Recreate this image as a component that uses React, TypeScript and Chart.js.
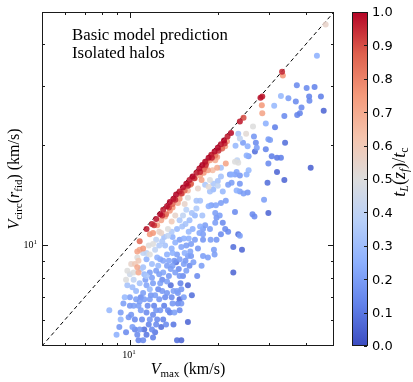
import React, { useEffect, useRef } from 'react';
import { Chart, registerables } from 'chart.js';
Chart.register(...registerables);

// ---------------- data ----------------
// V_max (km/s)
const vmax: number[] = [
  // upper, sparse part
  46.8, 43.7, 33.2, 33.4, 37.3, 40.3, 42.9, 41.1, 45.1, 32.9,
  34.9, 31.2, 37.0, 41.2, 38.7, 38.2, 37.4, 46.1, 33.8, 31.4,
  34.0, 30.2, 30.6, 31.9, 32.9, 31.9, 41.6, 33.8, 28.0, 28.4,
  28.3, 28.4, 29.2, 23.8, 24.5, 26.4, 23.5, 25.0, 23.8, 23.0,
  24.4, 25.3, 26.6, 27.0, 26.8, 29.2, 29.8, 25.5, 23.3, 25.1,
  27.2, 23.5, 22.3, 28.8, 26.3, 26.7, 29.8, 24.2, 23.8, 29.8,
  29.6, 22.6,
  // middle part
  18.1, 19.2, 18.5, 19.9, 20.5, 21.3, 22.9, 17.9, 17.6, 18.6,
  19.3, 20.0, 20.5, 18.8, 18.1, 18.8, 19.3, 20.0, 20.8, 22.0,
  22.9, 23.8, 23.2, 25.5, 25.1, 21.7, 22.3, 23.8, 23.2, 23.8,
  24.5, 25.3, 21.3, 20.5, 19.7, 19.0, 18.6, 17.4, 22.9, 19.6,
  19.8, 20.3, 20.8, 19.6, 17.7, 18.1, 17.8, 17.8, 17.8, 18.8,
  18.9, 19.8, 21.2, 21.7, 23.5, 20.5, 22.6, 19.5, 19.4, 17.6,
  17.8, 18.5, 21.5, 21.2, 19.3, 19.9, 19.6, 18.8, 18.3, 20.4,
  // dense lower part
  8.5, 9.0, 9.3, 9.3, 9.7, 9.8, 9.8, 9.9, 10.0, 10.3,
  10.1, 10.4, 10.2, 10.6, 10.7, 10.3, 10.3, 10.6, 10.4, 10.7,
  10.6, 10.7, 10.6, 10.8, 10.8, 10.8, 10.8, 10.7, 10.5, 10.8,
  10.9, 11.1, 11.2, 11.4, 11.4, 11.1, 11.4, 11.7, 11.7, 11.7,
  11.1, 11.4, 11.1, 11.7, 11.7, 11.1, 11.6, 11.7, 11.4, 11.4,
  11.2, 11.9, 12.0, 12.0, 12.3, 12.3, 12.4, 12.0, 12.7, 12.3,
  12.7, 12.0, 12.0, 12.3, 12.6, 12.4, 12.2, 12.5, 12.2, 12.6,
  12.8, 12.9, 13.0, 13.3, 13.4, 12.7, 13.5, 13.4, 13.0, 13.4,
  13.4, 12.8, 13.2, 13.7, 13.8, 13.2, 13.5, 12.9, 13.5, 12.8,
  13.9, 14.0, 14.1, 14.6, 14.6, 14.5, 14.0, 14.0, 14.4, 14.3,
  14.8, 14.5, 14.8, 14.2, 14.8, 14.0, 14.5, 14.8, 14.8, 14.0,
  14.6, 14.8, 14.3, 13.9, 15.0, 14.8, 15.0, 15.3, 15.0, 15.8,
  15.8, 15.3, 15.6, 15.4, 16.1, 15.1, 16.3, 15.1, 15.8, 16.1,
  15.4, 15.8, 15.3, 15.6, 15.9, 15.2, 16.5, 16.9, 16.7, 17.4,
  17.1, 16.7, 17.4, 16.7, 17.1,
  // band along the diagonal
  11.9, 12.3, 12.7, 13.0, 13.4, 13.7, 14.1, 14.4, 14.8, 15.2,
  15.6, 16.0, 16.4, 16.9, 17.3, 17.7, 18.1, 18.6, 19.0, 19.5,
  20.0, 20.5, 21.0, 21.6, 22.2, 12.1, 12.9, 13.6, 14.3, 15.0,
  15.8, 16.6, 17.4, 18.2, 19.1, 20.1, 21.1, 13.3, 14.0, 15.4,
  16.2, 17.9, 19.6, 20.7,
  // more of the dense cloud
  10.0, 10.5, 10.9, 11.3, 11.5, 11.8, 11.9, 12.1, 12.5, 12.6,
  12.9, 13.1, 13.2, 13.6, 13.8, 13.6, 13.9, 14.2, 14.5, 14.7,
  14.9, 15.2, 15.5, 15.8, 16.0, 16.2, 16.4, 16.0, 15.6, 14.3,
  13.0, 12.4, 11.9, 11.2, 10.9, 10.2, 9.6, 9.5, 9.2, 9.7,
  10.4, 11.0, 11.6, 12.2, 13.7, 14.1, 16.3, 17.0, 16.2, 13.1,
  13.9, 12.6, 11.4, 10.1, 10.0, 15.0, 15.9, 17.3, 16.9, 15.5,
];

// V_circ(r_fid) (km/s)
const vcirc: number[] = [
  45.9, 37.0, 33.1, 32.3, 30.2, 29.6, 29.8, 27.9, 27.9, 28.0,
  27.6, 26.2, 27.0, 27.1, 25.9, 24.9, 24.6, 25.3, 24.4, 22.6,
  20.3, 20.7, 18.5, 18.3, 18.3, 16.6, 17.1, 15.7, 27.7, 27.9,
  26.3, 24.9, 23.2, 23.5, 24.1, 22.7, 21.6, 21.6, 20.9, 19.9,
  20.3, 19.8, 21.2, 20.3, 19.1, 19.4, 20.8, 18.5, 18.0, 18.6,
  19.6, 17.7, 16.3, 13.7, 12.4, 12.2, 12.5, 9.7, 10.7, 17.6,
  15.4, 8.3,
  17.2, 16.8, 16.8, 17.1, 17.1, 17.6, 17.8, 16.5, 15.7, 15.0,
  15.3, 15.6, 16.1, 15.7, 15.2, 14.5, 14.7, 15.1, 14.5, 16.3,
  16.3, 16.2, 16.6, 16.8, 16.3, 15.2, 15.4, 15.3, 14.6, 14.5,
  14.3, 14.4, 13.6, 13.4, 13.2, 13.2, 13.1, 13.6, 12.6, 12.5,
  12.1, 12.3, 11.7, 11.7, 12.3, 11.5, 11.2, 10.8, 10.4, 11.2,
  10.4, 10.4, 11.2, 11.0, 10.8, 10.8, 9.9, 9.4, 9.7, 8.7,
  9.3, 9.2, 20.5, 19.8, 18.7, 18.4, 18.0, 18.0, 17.7, 19.4,
  6.4, 5.4, 6.3, 6.0, 7.9, 7.6, 8.4, 6.1, 7.0, 6.6,
  6.2, 6.0, 5.7, 5.4, 5.2, 7.9, 8.3, 8.6, 8.8, 8.3,
  9.2, 9.0, 9.6, 9.7, 10.3, 6.8, 5.6, 6.6, 7.3, 7.7,
  6.4, 5.2, 5.6, 5.4, 6.3, 7.2, 7.6, 7.4, 6.9, 6.0,
  8.6, 9.1, 9.5, 9.4, 8.3, 9.8, 10.0, 10.8, 11.2, 8.1,
  6.9, 5.6, 5.3, 6.2, 6.4, 5.8, 6.0, 7.7, 7.7, 8.4,
  9.1, 10.9, 10.1, 10.4, 11.0, 11.5, 9.7, 8.7, 7.1, 6.9,
  5.7, 7.3, 6.0, 5.8, 7.2, 6.4, 6.4, 7.8, 8.3, 8.7,
  9.4, 11.9, 12.2, 12.7, 7.6, 10.0, 10.7, 10.3, 11.2, 10.9,
  7.0, 6.7, 7.3, 7.2, 6.7, 5.2, 8.7, 9.5, 8.9, 8.3,
  8.1, 7.3, 6.9, 6.3, 9.1, 10.6, 11.2, 11.9, 10.4, 13.0,
  13.4, 13.8, 12.3, 11.8, 5.2, 6.4, 7.4, 7.0, 6.7, 7.6,
  5.9, 8.8, 8.4, 9.5, 9.6, 11.4, 12.5, 14.3, 14.6, 15.2,
  13.3, 13.9, 10.5, 10.0, 11.0, 12.3, 8.9, 13.6, 15.9, 16.2,
  14.8, 12.3, 11.4, 10.4, 9.8,
  11.6, 12.0, 12.4, 12.8, 13.1, 13.5, 13.8, 14.2, 14.5, 14.9,
  15.3, 15.7, 16.1, 16.5, 17.0, 17.4, 17.8, 18.3, 18.7, 19.1,
  19.6, 20.1, 20.6, 21.2, 21.7, 11.5, 12.3, 13.0, 13.7, 14.3,
  15.1, 15.9, 16.6, 17.4, 18.3, 19.2, 20.2, 12.4, 13.3, 14.6,
  15.3, 16.9, 18.6, 19.5,
  6.6, 6.9, 7.0, 7.9, 6.6, 7.1, 8.0, 6.6, 7.4, 8.2,
  7.9, 6.6, 7.0, 8.1, 8.5, 9.0, 9.8, 9.0, 9.4, 8.5,
  7.7, 8.1, 9.0, 9.3, 8.7, 10.1, 11.2, 11.9, 12.8, 10.2,
  9.0, 9.2, 8.8, 8.2, 8.5, 7.5, 7.0, 6.7, 5.7, 5.5,
  5.6, 6.0, 5.8, 5.5, 6.3, 5.8, 7.1, 8.1, 9.3, 10.6,
  11.0, 10.0, 9.5, 8.8, 8.2, 9.9, 10.5, 10.9, 12.9, 11.6,
];

// t_L(z_f) / t_c  (colour)
const tRatio: number[] = [
  0.55, 0.25, 0.95, 0.75, 0.15, 0.15, 0.13, 0.13, 0.12, 0.28,
  0.20, 0.28, 0.15, 0.15, 0.15, 0.13, 0.13, 0.06, 0.15, 0.12,
  0.08, 0.20, 0.12, 0.10, 0.12, 0.06, 0.05, 0.06, 0.98, 0.97,
  0.75, 0.72, 0.25, 0.97, 0.90, 0.50, 0.32, 0.52, 0.40, 0.28,
  0.20, 0.25, 0.18, 0.15, 0.08, 0.13, 0.20, 0.20, 0.40, 0.25,
  0.20, 0.50, 0.25, 0.20, 0.15, 0.15, 0.06, 0.06, 0.20, 0.15,
  0.08, 0.06,
  0.85, 0.65, 0.72, 0.70, 0.32, 0.72, 0.50, 0.75, 0.72, 0.52,
  0.34, 0.32, 0.32, 0.50, 0.34, 0.32, 0.28, 0.40, 0.28, 0.20,
  0.20, 0.18, 0.22, 0.28, 0.25, 0.20, 0.20, 0.18, 0.25, 0.20,
  0.20, 0.18, 0.20, 0.20, 0.22, 0.20, 0.25, 0.32, 0.15, 0.20,
  0.18, 0.20, 0.15, 0.20, 0.32, 0.20, 0.20, 0.20, 0.18, 0.20,
  0.20, 0.18, 0.15, 0.15, 0.08, 0.15, 0.08, 0.20, 0.20, 0.20,
  0.20, 0.20, 0.75, 0.72, 0.70, 0.72, 0.70, 0.75, 0.80, 0.50,
  0.28, 0.25, 0.20, 0.28, 0.50, 0.32, 0.50, 0.18, 0.20, 0.20,
  0.18, 0.15, 0.20, 0.15, 0.13, 0.40, 0.50, 0.70, 0.60, 0.70,
  0.50, 0.60, 0.72, 0.70, 0.85, 0.20, 0.18, 0.20, 0.28, 0.32,
  0.20, 0.15, 0.08, 0.10, 0.15, 0.20, 0.22, 0.28, 0.20, 0.18,
  0.32, 0.25, 0.40, 0.50, 0.20, 0.75, 0.50, 0.75, 0.97, 0.34,
  0.20, 0.15, 0.12, 0.15, 0.18, 0.15, 0.15, 0.20, 0.20, 0.20,
  0.22, 0.75, 0.50, 0.40, 0.55, 0.72, 0.40, 0.28, 0.20, 0.18,
  0.08, 0.18, 0.13, 0.15, 0.18, 0.18, 0.15, 0.20, 0.22, 0.20,
  0.25, 0.72, 0.72, 0.75, 0.08, 0.32, 0.40, 0.34, 0.50, 0.55,
  0.15, 0.18, 0.20, 0.18, 0.15, 0.08, 0.20, 0.25, 0.08, 0.20,
  0.18, 0.20, 0.06, 0.20, 0.20, 0.25, 0.28, 0.34, 0.20, 0.75,
  0.70, 0.75, 0.55, 0.60, 0.06, 0.15, 0.18, 0.20, 0.18, 0.06,
  0.06, 0.20, 0.20, 0.25, 0.22, 0.32, 0.32, 0.75, 0.65, 0.75,
  0.55, 0.50, 0.25, 0.20, 0.28, 0.40, 0.20, 0.32, 0.75, 0.72,
  0.55, 0.28, 0.25, 0.20, 0.18,
  0.96, 0.98, 1.00, 0.97, 0.99, 1.00, 0.98, 1.00, 0.97, 0.99,
  1.00, 0.98, 1.00, 0.97, 0.99, 1.00, 0.98, 1.00, 0.97, 0.99,
  1.00, 0.98, 1.00, 0.97, 0.99, 0.93, 0.95, 0.92, 0.95, 0.93,
  0.96, 0.94, 0.95, 0.93, 0.96, 0.94, 0.95, 0.85, 0.86, 0.84,
  0.88, 0.85, 0.83, 0.86,
  0.18, 0.20, 0.15, 0.20, 0.15, 0.18, 0.20, 0.13, 0.15, 0.20,
  0.15, 0.12, 0.15, 0.18, 0.20, 0.22, 0.25, 0.18, 0.20, 0.15,
  0.13, 0.15, 0.18, 0.20, 0.15, 0.20, 0.25, 0.30, 0.38, 0.25,
  0.22, 0.25, 0.30, 0.28, 0.35, 0.30, 0.28, 0.20, 0.18, 0.15,
  0.13, 0.15, 0.13, 0.10, 0.12, 0.10, 0.08, 0.15, 0.18, 0.32,
  0.35, 0.35, 0.40, 0.55, 0.45, 0.22, 0.25, 0.22, 0.35, 0.32,
];

const axisRange = [5, 50];
const oneToOne = [5, 50];
const majorTicks = [10];
const minorTicks = [6, 7, 8, 9, 20, 30, 40];
const cbTicks = [0, 0.1, 0.2, 0.3, 0.4, 0.5, 0.6, 0.7, 0.8, 0.9, 1.0];
const annotation = ['Basic model prediction', 'Isolated halos'];

// ---------------- styling ----------------
const SERIF = '"Liberation Serif", "DejaVu Serif", serif';
const SANS = '"DejaVu Sans", sans-serif';
const CMAP: [number, number[]][] = [
  [0, [59, 76, 192]],
  [0.125, [98, 130, 234]],
  [0.25, [141, 176, 254]],
  [0.375, [184, 208, 249]],
  [0.5, [221, 221, 221]],
  [0.625, [245, 196, 173]],
  [0.75, [244, 154, 123]],
  [0.875, [222, 96, 77]],
  [1, [180, 4, 38]],
];
function cmap(t: number, a = 1): string {
  const v = Math.max(0, Math.min(1, t));
  for (let i = 0; i < CMAP.length - 1; i++) {
    const [s0, c0] = CMAP[i];
    const [s1, c1] = CMAP[i + 1];
    if (v <= s1) {
      const f = (v - s0) / (s1 - s0);
      const c = c0.map((x, k) => Math.round(x + (c1[k] - x) * f));
      return `rgba(${c[0]},${c[1]},${c[2]},${a})`;
    }
  }
  return `rgba(180,4,38,${a})`;
}

type Run = { text: string; font: string; dy?: number };
function runsWidth(ctx: CanvasRenderingContext2D, runs: Run[]) {
  let w = 0;
  for (const r of runs) {
    ctx.font = r.font;
    w += ctx.measureText(r.text).width;
  }
  return w;
}
function drawRuns(ctx: CanvasRenderingContext2D, runs: Run[], x: number, y: number, align: 'left' | 'center' | 'right') {
  const w = runsWidth(ctx, runs);
  let cx = align === 'center' ? x - w / 2 : align === 'right' ? x - w : x;
  ctx.textAlign = 'left';
  ctx.textBaseline = 'alphabetic';
  for (const r of runs) {
    ctx.font = r.font;
    ctx.fillText(r.text, cx, y + (r.dy || 0));
    cx += ctx.measureText(r.text).width;
  }
}

const CB_LEFT = 352;
const CB_RIGHT = 368;

const decorPlugin = {
  id: 'decor',
  afterDraw(chart: any) {
    const ctx: CanvasRenderingContext2D = chart.ctx;
    const { left, right, top, bottom } = chart.chartArea;
    const xs = chart.scales.x;
    const ys = chart.scales.y;
    ctx.save();
    ctx.strokeStyle = '#1a1a1a';
    ctx.fillStyle = '#000';
    ctx.lineWidth = 1;
    // frame
    ctx.strokeRect(Math.round(left) + 0.5, Math.round(top) + 0.5, Math.round(right - left) - 1, Math.round(bottom - top) - 1);
    // ticks, all four sides, pointing inwards
    const tick = (v: number, len: number) => {
      const px = Math.round(xs.getPixelForValue(v)) + 0.5;
      const py = Math.round(ys.getPixelForValue(v)) + 0.5;
      ctx.beginPath();
      ctx.moveTo(px, bottom); ctx.lineTo(px, bottom - len);
      ctx.moveTo(px, top); ctx.lineTo(px, top + len);
      ctx.moveTo(left, py); ctx.lineTo(left + len, py);
      ctx.moveTo(right, py); ctx.lineTo(right - len, py);
      ctx.stroke();
    };
    minorTicks.forEach((v) => tick(v, 3));
    majorTicks.forEach((v) => tick(v, 6));
    // tick labels 10^1
    ctx.fillStyle = '#000';
    for (const v of majorTicks) {
      const e = String(Math.round(Math.log10(v)));
      const runs: Run[] = [
        { text: '10', font: `10px ${SERIF}` },
        { text: e, font: `7px ${SERIF}`, dy: -4 },
      ];
      drawRuns(ctx, runs, xs.getPixelForValue(v) - 1, bottom + 12, 'center');
      drawRuns(ctx, runs, left - 5, ys.getPixelForValue(v) + 3, 'right');
    }
    // axis titles
    const it = `italic 16px ${SERIF}`;
    const rm = `16px ${SERIF}`;
    const sub = `11px ${SERIF}`;
    drawRuns(ctx, [
      { text: 'V', font: it },
      { text: 'max', font: sub, dy: 3 },
      { text: ' (km/s)', font: rm },
    ], (left + right) / 2, 374, 'center');
    ctx.save();
    ctx.translate(19, (top + bottom) / 2);
    ctx.rotate(-Math.PI / 2);
    drawRuns(ctx, [
      { text: 'V', font: it },
      { text: 'circ', font: sub, dy: 3 },
      { text: '(', font: rm },
      { text: 'r', font: it },
      { text: 'fid', font: sub, dy: 3 },
      { text: ')', font: rm },
      { text: ' (km/s)', font: rm },
    ], 0, 0, 'center');
    ctx.restore();
    // annotation text, fitted to width
    ctx.font = `16px ${SERIF}`;
    const w0 = ctx.measureText(annotation[0]).width;
    const fs = (16 * 156) / w0;
    ctx.font = `${fs}px ${SERIF}`;
    ctx.textAlign = 'left';
    ctx.textBaseline = 'alphabetic';
    ctx.fillText(annotation[0], 72, 40);
    ctx.fillText(annotation[1], 72, 58);
    // colour bar
    const g = ctx.createLinearGradient(0, bottom, 0, top);
    CMAP.forEach(([s]) => g.addColorStop(s, cmap(s)));
    ctx.fillStyle = g;
    ctx.fillRect(CB_LEFT, top, CB_RIGHT - CB_LEFT, bottom - top);
    ctx.strokeStyle = '#1a1a1a';
    ctx.strokeRect(CB_LEFT + 0.5, Math.round(top) + 0.5, CB_RIGHT - CB_LEFT - 1, Math.round(bottom - top) - 1);
    ctx.fillStyle = '#000';
    ctx.font = `13px ${SANS}`;
    ctx.textBaseline = 'middle';
    for (const v of cbTicks) {
      const y = bottom - v * (bottom - top);
      const yy = Math.round(y) + 0.5;
      ctx.beginPath();
      ctx.moveTo(CB_RIGHT - 1, yy);
      ctx.lineTo(CB_RIGHT - 4, yy);
      ctx.stroke();
      ctx.fillText(v.toFixed(1), CB_RIGHT + 4, y + 1);
    }
    const cit = `italic 18px ${SERIF}`;
    const crm = `18px ${SERIF}`;
    const csub = `12px ${SERIF}`;
    const csubIt = `italic 12px ${SERIF}`;
    ctx.save();
    ctx.translate(405, 172);
    ctx.rotate(-Math.PI / 2);
    drawRuns(ctx, [
      { text: 't', font: cit },
      { text: 'L', font: csubIt, dy: 3 },
      { text: '(', font: crm },
      { text: 'z', font: cit },
      { text: 'f', font: csubIt, dy: 3 },
      { text: ')/', font: crm },
      { text: 't', font: cit },
      { text: 'c', font: csub, dy: 3 },
    ], 0, 0, 'center');
    ctx.restore();
    ctx.restore();
  },
};

export default function App() {
  const ref = useRef<HTMLCanvasElement | null>(null);
  useEffect(() => {
    if (!ref.current) return;
    const idx = vmax.map((_, i) => i).sort((a, b) => tRatio[a] - tRatio[b]);
    const chart = new Chart(ref.current, {
      type: 'scatter',
      data: {
        datasets: [
          {
            label: 'halos',
            data: idx.map((i) => ({ x: vmax[i], y: vcirc[i] })),
            backgroundColor: idx.map((i) => cmap(tRatio[i], 0.88)),
            borderWidth: 0,
            pointRadius: 3,
            pointHoverRadius: 3,
            order: 1,
          },
          {
            label: '1:1',
            data: oneToOne.map((v) => ({ x: v, y: v })),
            showLine: true,
            borderColor: '#000',
            borderWidth: 1,
            borderDash: [4, 3],
            pointRadius: 0,
            order: 2,
          } as any,
        ],
      },
      options: {
        animation: false,
        responsive: false,
        events: [],
        layout: { padding: { left: 42, top: 12, right: 79, bottom: 36 } },
        plugins: { legend: { display: false }, tooltip: { enabled: false } },
        scales: {
          x: { type: 'logarithmic', min: axisRange[0], max: axisRange[1], display: false },
          y: { type: 'logarithmic', min: axisRange[0], max: axisRange[1], display: false },
        },
      },
      plugins: [decorPlugin],
    });
    return () => chart.destroy();
  }, []);
  return (
    <div style={{ position: 'absolute', left: 0, top: 0, width: 413, height: 382, background: '#fff' }}>
      <canvas ref={ref} width={413} height={382} />
    </div>
  );
}
